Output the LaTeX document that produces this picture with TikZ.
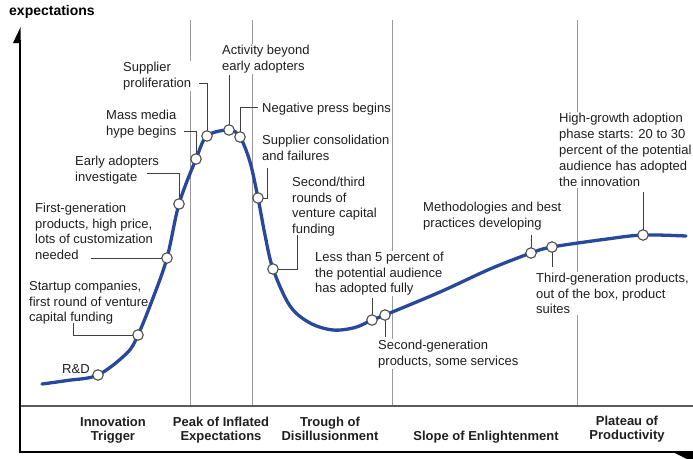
\documentclass[tikz,border=0pt]{standalone}
\usepackage{fontspec}
\setmainfont{Liberation Sans}
\begin{document}
\begin{tikzpicture}[x=1pt,y=-1pt,
  lbl/.style={font=\fontsize{13}{15.5}\selectfont, text=black!88, fill=white, inner sep=1pt, align=left, anchor=north west},
  phase/.style={font=\fontsize{13}{14}\selectfont\bfseries, text=black!88, inner sep=0pt, align=center, anchor=north},
  lead/.style={draw=black!75, line width=0.9pt},
  phaseline/.style={draw=black!40, line width=0.9pt},
  dot/.style={circle, draw=black!70, fill=white, line width=1.1pt, minimum size=10.5pt, inner sep=0pt}
]
\definecolor{curveblue}{RGB}{40,72,156}
\useasboundingbox (0,0) rectangle (693,458);

% phase separators
\foreach \px in {190,252,392,577} \draw[phaseline] (\px,20) -- (\px,406);
\draw[draw=black!65, line width=1.3pt] (20,406) -- (693,406);

% axes
\draw[black, line width=1.3pt] (20,40) -- (20,452);
\fill[black] (13,43) -- (20.6,27) -- (20.6,43) -- cycle;
\draw[black, line width=1.6pt] (19.4,452) -- (693,452);
\fill[black] (673,452) -- (693,452) -- (693,462) -- cycle;
\node[font=\fontsize{14}{16}\selectfont\bfseries, inner sep=0pt, anchor=west] (ylab) at (9,12) {expectations};

% curve points
\coordinate (c0) at (42,384);
\coordinate (dRD) at (98,375);
\coordinate (dStart) at (138,335);
\coordinate (dFirst) at (167,258);
\coordinate (dEarly) at (179,204);
\coordinate (dMass) at (196,159);
\coordinate (dProlif) at (207,136);
\coordinate (dAct) at (229,130);
\coordinate (dNeg) at (240,137);
\coordinate (dCons) at (258,198);
\coordinate (dSecond) at (273,269);
\coordinate (dLess) at (372,320);
\coordinate (dSgen) at (385,315);
\coordinate (dMeth) at (531,253);
\coordinate (dThird) at (552,247);
\coordinate (dHigh) at (643,235);
\coordinate (cEnd) at (686,236);

% text labels
\node[lbl] (tRD) at (61,363) {R\&D};
\node[lbl] (tStart) at (28,280) {Startup companies,\\first round of venture\\capital funding};
\node[lbl] (tFirst) at (34,202) {First-generation\\products, high price,\\lots of customization\\needed};
\node[lbl] (tEarly) at (74,155) {Early adopters\\investigate};
\node[lbl] (tMass) at (105,109) {Mass media\\hype begins};
\node[lbl] (tProlif) at (122,61) {Supplier\\proliferation};
\node[lbl] (tAct) at (221,44) {Activity beyond\\early adopters};
\node[lbl] (tNeg) at (261,102) {Negative press begins};
\node[lbl] (tCons) at (261,134) {Supplier consolidation\\and failures};
\node[lbl] (tSecond) at (291,176) {Second/third\\rounds of\\venture capital\\funding};
\node[lbl] (tLess) at (314,251) {Less than 5 percent of\\the potential audience\\has adopted fully};
\node[lbl] (tSgen) at (377,339) {Second-generation\\products, some services};
\node[lbl] (tMeth) at (422,201) {Methodologies and best\\practices developing};
\node[lbl] (tThird) at (535,272) {Third-generation products,\\out of the box, product\\suites};
\node[lbl, font=\fontsize{13}{16}\selectfont] (tHigh) at (558,112) {High-growth adoption\\phase starts: 20 to 30\\percent of the potential\\audience has adopted\\the innovation};

% leader lines
\coordinate (lStart) at (73,323);
\coordinate (lFirst) at (91,258);
\coordinate (lEarly) at (147,173);
\coordinate (lMass) at (184,131);
\coordinate (lProlif) at (199,83);
\coordinate (lAct) at (229,75);
\coordinate (lNeg) at (258,107);
\coordinate (lCons) at (267,168);
\coordinate (lSecond) at (297,235);
\coordinate (lLess) at (372,298);
\coordinate (lSgen) at (385,337);
\coordinate (lMeth) at (531,235);
\coordinate (lThird) at (552,267);
\coordinate (lHigh) at (643,192);
\draw[lead] (lStart) |- (dStart);
\draw[lead] (lFirst) -- (dFirst);
\draw[lead] (lEarly) -| (dEarly);
\draw[lead] (lMass) -| (dMass);
\draw[lead] (lProlif) -| (dProlif);
\draw[lead] (lAct) -- (dAct);
\draw[lead] (lNeg) -| (dNeg);
\draw[lead] (lCons) |- (dCons);
\draw[lead] (lSecond) |- (dSecond);
\draw[lead] (lLess) -- (dLess);
\draw[lead] (dSgen) -- (lSgen);
\draw[lead] (lMeth) -- (dMeth);
\draw[lead] (dThird) -- (lThird);
\draw[lead] (lHigh) -- (dHigh);

% hype curve
\draw[curveblue, line width=3.3pt, line cap=round] plot[smooth, tension=0.55] coordinates {
 (c0) (67,380.5) (dRD) (127,353) (dStart) (153,298) (dFirst) (dEarly) (dMass) (dProlif) (dAct) (dNeg) (250,162) (dCons) (265,235) (dSecond) (290,306) (310,323) (333,330) (355,327.5) (dLess) (dSgen) (440,292) (490,269) (dMeth) (dThird) (607,239) (dHigh) (cEnd)};

% dots
\foreach \d in {dRD,dStart,dFirst,dEarly,dMass,dProlif,dAct,dNeg,dCons,dSecond,dLess,dSgen,dMeth,dThird,dHigh}
  \node[dot] at (\d) {};

% phase labels
\node[phase] (p1) at (113,417) {Innovation\\Trigger};
\node[phase] (p2) at (221,417) {Peak of Inflated\\Expectations};
\node[phase] (p3) at (330,417) {Trough of\\Disillusionment};
\node[phase] (p4) at (486,431) {Slope of Enlightenment};
\node[phase] (p5) at (627,416) {Plateau of\\Productivity};
\end{tikzpicture}
\end{document}
